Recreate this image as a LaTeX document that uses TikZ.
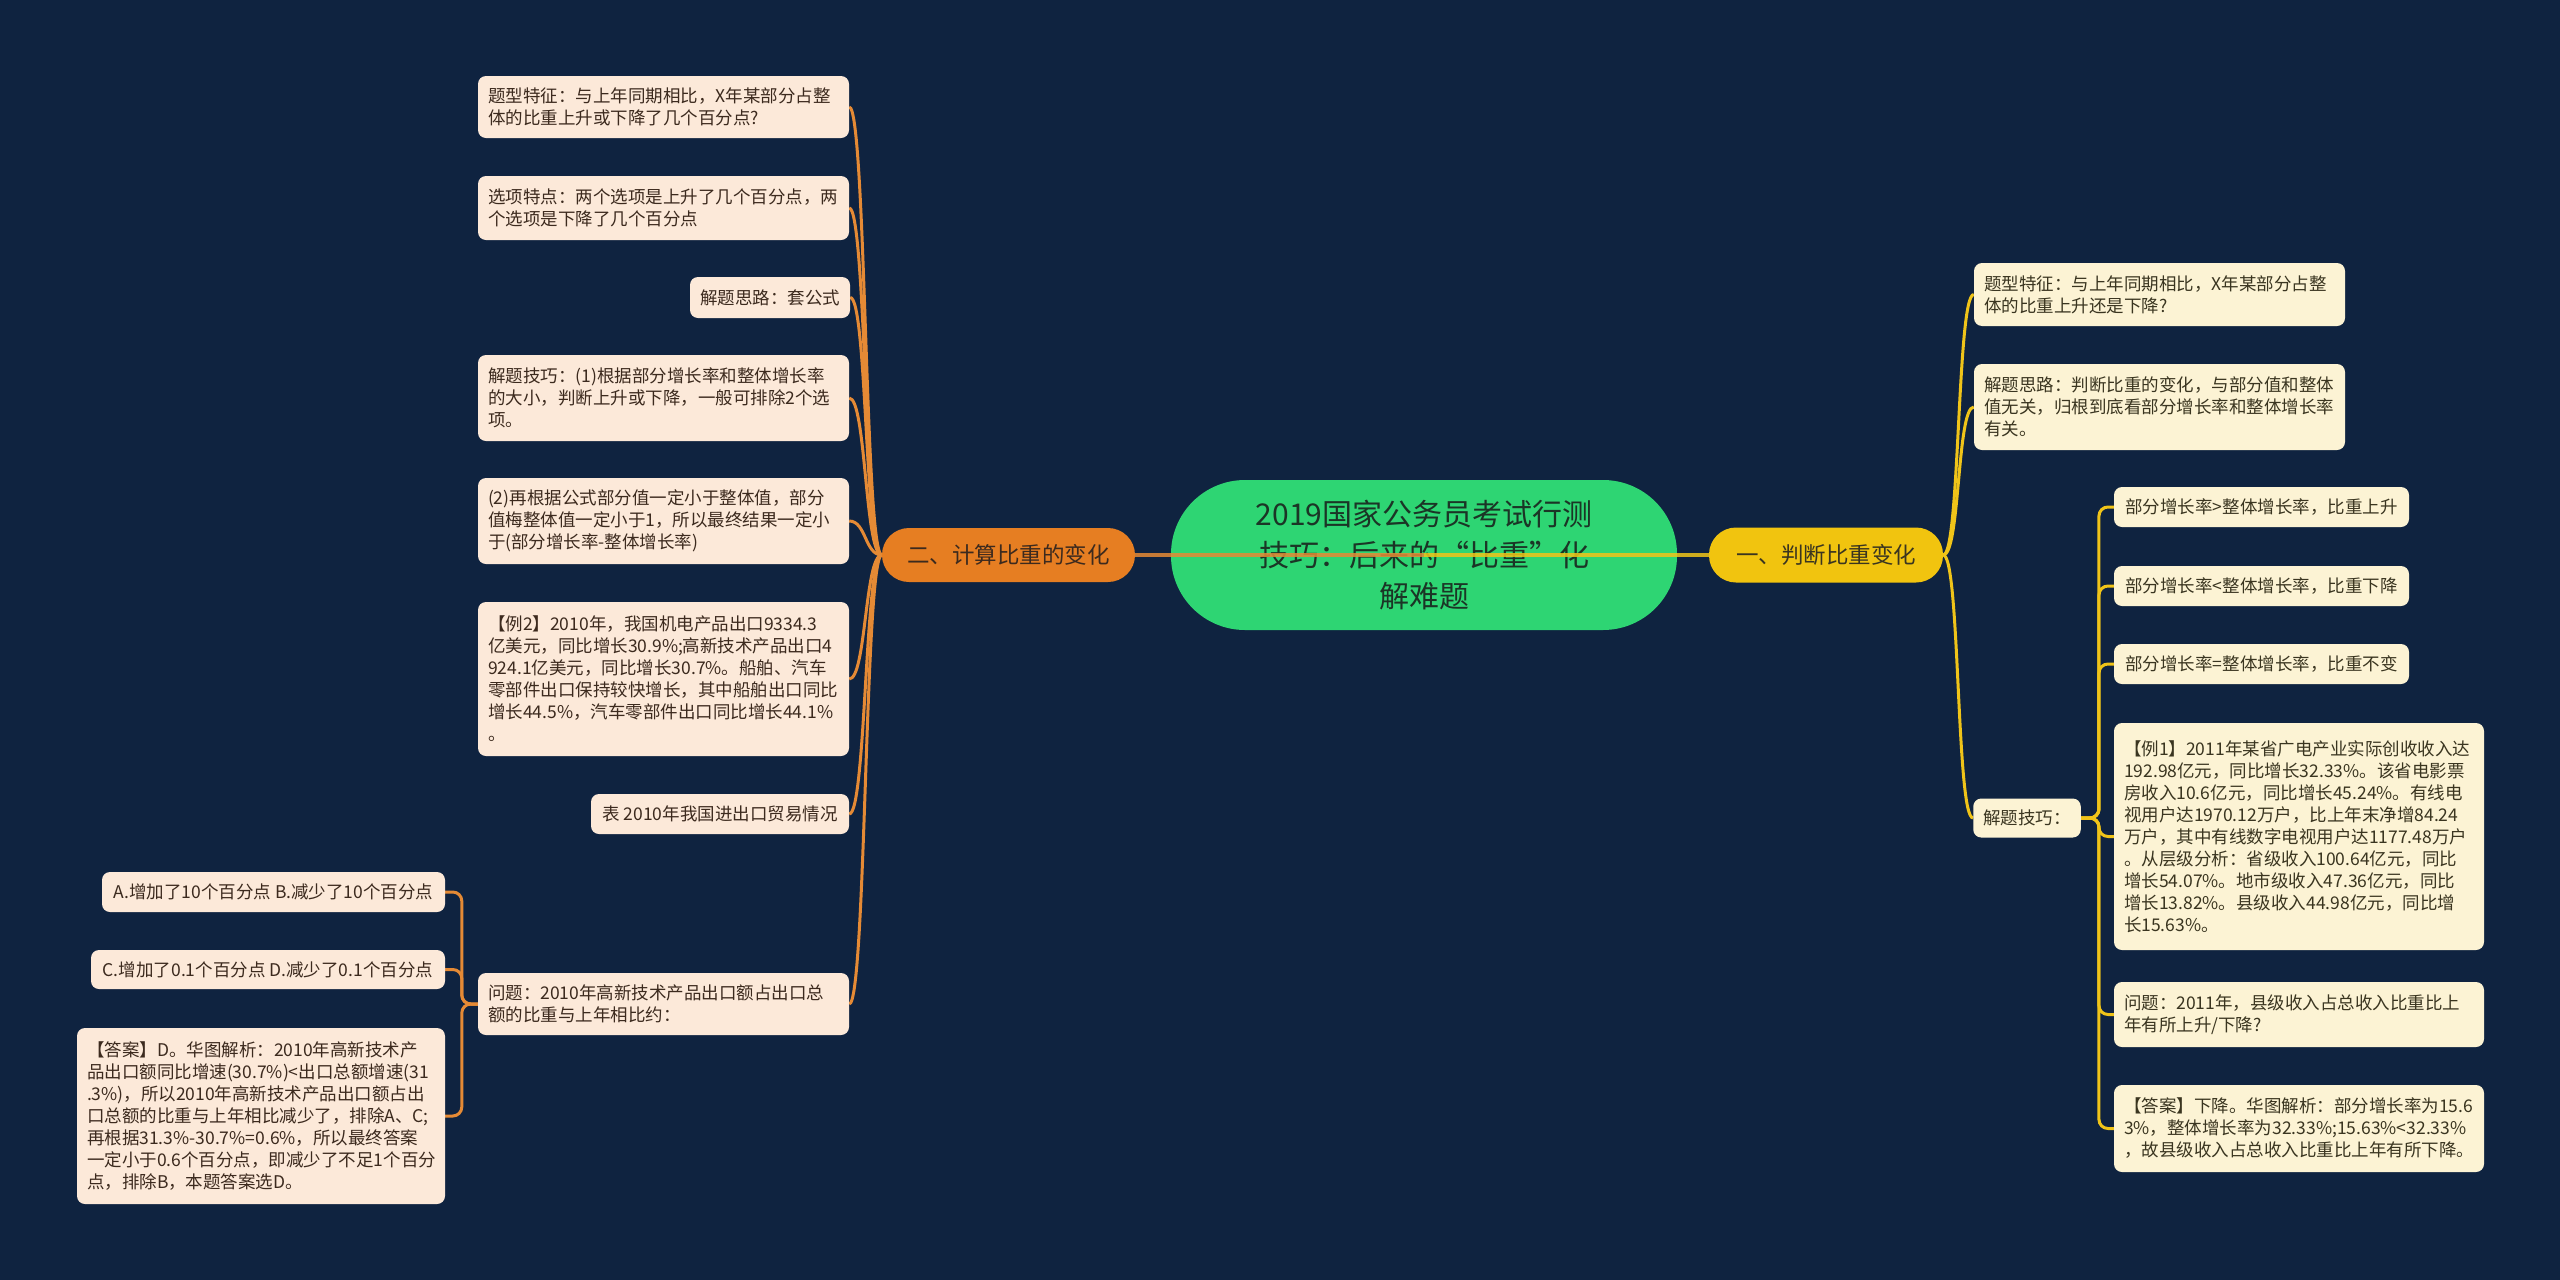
\documentclass[tikz,border=0pt]{standalone}
\usepackage{fontspec}
\usetikzlibrary{backgrounds}
\newfontfamily\cjk{Noto Sans CJK SC}
\definecolor{bg}{HTML}{0F2340}
\definecolor{ocol}{HTML}{E58A35}
\definecolor{ycol}{HTML}{F0C419}
\definecolor{onode}{HTML}{E67E22}
\definecolor{ynode}{HTML}{F1C40F}
\definecolor{gnode}{HTML}{2ED573}
\definecolor{lfill}{HTML}{FCE9D9}
\definecolor{rfill}{HTML}{FCF3D4}
\definecolor{ltext}{HTML}{3C2A1E}
\definecolor{rtext}{HTML}{3A3520}
\definecolor{gtext}{HTML}{1B3526}
\tikzset{
  leafbase/.style={rounded corners=8pt, font=\cjk\fontsize{17.5}{22}\selectfont, inner xsep=10pt, inner ysep=0pt, align=left},
  lleaf/.style={leafbase, fill=lfill, text=ltext},
  rleaf/.style={leafbase, fill=rfill, text=rtext},
  oc/.style={draw=ocol, line width=3pt},
  yc/.style={draw=ycol, line width=3pt},
  branchnode/.style={font=\cjk\fontsize{22.5}{26}\selectfont, inner sep=0pt},
}
\begin{document}
\begin{tikzpicture}[x=1pt,y=-1pt]
\begin{scope}[on background layer]
\fill[bg] (0,0) rectangle (2560,1280);
\end{scope}
\useasboundingbox (0,0) rectangle (2560,1280);

% central and branch nodes
\node[fill=gnode, text=gtext, rounded corners=74pt, minimum width=506pt, minimum height=150pt, inner sep=0pt,
      font=\cjk\fontsize{30}{41}\selectfont, align=center] (C) at (1424,555)
      {2019国家公务员考试行测\\技巧：后来的“比重”化\\解难题};
\node[branchnode, fill=onode, text=ltext, rounded corners=27pt, minimum width=253pt, minimum height=54pt] (LB) at (1008.5,555) {二、计算比重的变化};
\node[branchnode, fill=ynode, text=rtext, rounded corners=27pt, minimum width=234pt, minimum height=55pt] (RB) at (1826,555) {一、判断比重变化};

% left leaves
\node[lleaf, minimum width=371pt, minimum height=62pt, text width=351pt] (L1) at (663.5,107)
  {题型特征：与上年同期相比，X年某部分占整\\体的比重上升或下降了几个百分点?};
\node[lleaf, minimum width=371pt, minimum height=64pt, text width=351pt] (L2) at (663.5,208)
  {选项特点：两个选项是上升了几个百分点，两\\个选项是下降了几个百分点};
\node[lleaf, minimum width=158pt, minimum height=41pt] (L3) at (770,297.5) {解题思路：套公式};
\node[lleaf, minimum width=371pt, minimum height=86pt, text width=351pt] (L4) at (663.5,398)
  {解题技巧：(1)根据部分增长率和整体增长率\\的大小，判断上升或下降，一般可排除2个选\\项。};
\node[lleaf, minimum width=371pt, minimum height=86pt, text width=351pt] (L5) at (663.5,521)
  {(2)再根据公式部分值一定小于整体值，部分\\值梅整体值一定小于1，所以最终结果一定小\\于(部分增长率-整体增长率)};
\node[lleaf, minimum width=371pt, minimum height=154pt, text width=351pt] (L6) at (663.5,679)
  {【例2】2010年，我国机电产品出口9334.3\\亿美元，同比增长30.9\%;高新技术产品出口4\\924.1亿美元，同比增长30.7\%。船舶、汽车\\零部件出口保持较快增长，其中船舶出口同比\\增长44.5\%，汽车零部件出口同比增长44.1\%\\。};
\node[lleaf, minimum width=258pt, minimum height=40pt] (L7) at (720,814) {表 2010年我国进出口贸易情况};
\node[lleaf, minimum width=371pt, minimum height=62pt, text width=351pt] (L8) at (663.5,1004)
  {问题：2010年高新技术产品出口额占出口总\\额的比重与上年相比约：};
\node[lleaf, minimum width=343pt, minimum height=40pt] (LA) at (273.5,892) {A.增加了10个百分点 B.减少了10个百分点};
\node[lleaf, minimum width=354pt, minimum height=39pt] (LC) at (268,969.5) {C.增加了0.1个百分点 D.减少了0.1个百分点};
\node[lleaf, minimum width=368pt, minimum height=176pt, text width=348pt] (LD) at (261,1116)
  {【答案】D。华图解析：2010年高新技术产\\品出口额同比增速(30.7\%)<出口总额增速(31\\.3\%)，所以2010年高新技术产品出口额占出\\口总额的比重与上年相比减少了，排除A、C;\\再根据31.3\%-30.7\%=0.6\%，所以最终答案\\一定小于0.6个百分点，即减少了不足1个百分\\点，排除B，本题答案选D。};

% right leaves
\node[rleaf, minimum width=371pt, minimum height=63pt, text width=351pt] (R1) at (2159.5,294.5)
  {题型特征：与上年同期相比，X年某部分占整\\体的比重上升还是下降?};
\node[rleaf, minimum width=371pt, minimum height=86pt, text width=351pt] (R2) at (2159.5,407)
  {解题思路：判断比重的变化，与部分值和整体\\值无关，归根到底看部分增长率和整体增长率\\有关。};
\node[rleaf, minimum width=106pt, minimum height=39pt] (R3) at (2027,818) {解题技巧：};
\node[rleaf, minimum width=295pt, minimum height=40pt] (S1) at (2261.5,507) {部分增长率>整体增长率，比重上升};
\node[rleaf, minimum width=295pt, minimum height=40pt] (S2) at (2261.5,586) {部分增长率<整体增长率，比重下降};
\node[rleaf, minimum width=295pt, minimum height=40pt] (S3) at (2261.5,664) {部分增长率=整体增长率，比重不变};
\node[rleaf, minimum width=370pt, minimum height=227pt, text width=350pt] (EX) at (2299,836.5)
  {【例1】2011年某省广电产业实际创收收入达\\192.98亿元，同比增长32.33\%。该省电影票\\房收入10.6亿元，同比增长45.24\%。有线电\\视用户达1970.12万户，比上年末净增84.24\\万户，其中有线数字电视用户达1177.48万户\\。从层级分析：省级收入100.64亿元，同比\\增长54.07\%。地市级收入47.36亿元，同比\\增长13.82\%。县级收入44.98亿元，同比增\\长15.63\%。};
\node[rleaf, minimum width=370pt, minimum height=65pt, text width=350pt] (Q) at (2299,1014.5)
  {问题：2011年，县级收入占总收入比重比上\\年有所上升/下降?};
\node[rleaf, minimum width=370pt, minimum height=87pt, text width=350pt] (AN) at (2299,1128.5)
  {【答案】下降。华图解析：部分增长率为15.6\\3\%，整体增长率为32.33\%;15.63\%<32.33\%\\，故县级收入占总收入比重比上年有所下降。};

% connectors (behind nodes)
\begin{scope}[on background layer]
\foreach \n in {L1,L2,L3,L4,L5,L6,L7,L8}
  \draw[oc] (LB.west) .. controls +(-17,0) and +(17,0) .. (\n.east);
\foreach \n in {R1,R2,R3}
  \draw[yc] (RB.east) .. controls +(17,0) and +(-17,0) .. (\n.west);
\foreach \n in {LA,LC,LD}
  \draw[oc, rounded corners=9pt] (L8.west) -- ++(-16,0) |- (\n.east);
\foreach \n in {S1,S2,S3,EX,Q,AN}
  \draw[yc, rounded corners=9pt] (R3.east) -- ++(18,0) |- (\n.west);
\end{scope}

% main spine over the central node
\draw[oc, line width=3.5pt, opacity=0.85] (LB.east) -- (C.center);
\draw[yc, line width=3.5pt, opacity=0.85] (C.center) -- (RB.west);
\end{tikzpicture}
\end{document}
